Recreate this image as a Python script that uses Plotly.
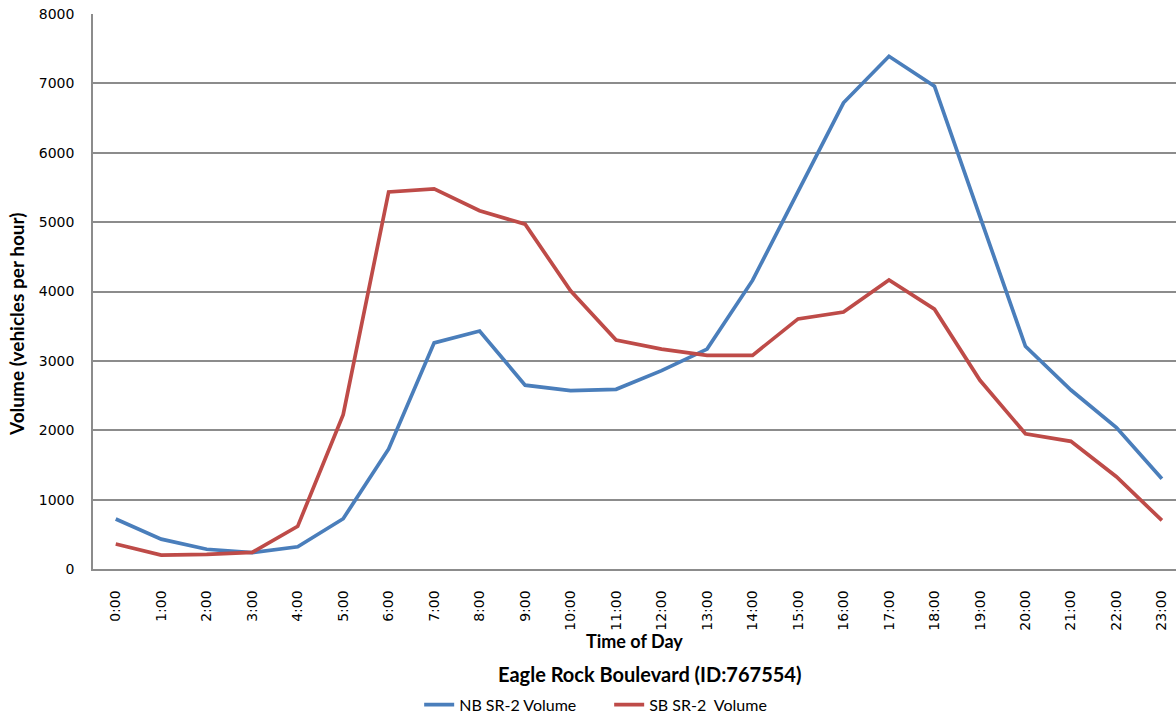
import plotly.graph_objects as go

hours = ["{}:00".format(h) for h in range(24)]

nb_volume = [720, 430, 285, 235, 320, 725, 1730, 3260, 3430, 2650,
             2570, 2590, 2860, 3170, 4160, 5450, 6720, 7390, 6960, 5080,
             3210, 2580, 2040, 1300]

sb_volume = [360, 200, 210, 240, 615, 2225, 5435, 5480, 5165, 4970,
             4010, 3300, 3170, 3080, 3080, 3605, 3705, 4165, 3745, 2720,
             1950, 1840, 1330, 700]

y_ticks = [0, 1000, 2000, 3000, 4000, 5000, 6000, 7000, 8000]

blue = "#4A7EBB"
red = "#BE4B48"
grid = "#8C8C8C"

fig = go.Figure()

fig.add_trace(go.Scatter(
    x=list(range(24)), y=nb_volume, mode="lines", name="NB SR-2 Volume",
    line=dict(color=blue, width=3.7),
))
fig.add_trace(go.Scatter(
    x=list(range(24)), y=sb_volume, mode="lines", name="SB SR-2  Volume",
    line=dict(color=red, width=3.7),
))

fig.update_layout(
    width=1176,
    height=717,
    margin=dict(l=93, r=0, t=14, b=148, autoexpand=False),
    plot_bgcolor="white",
    paper_bgcolor="white",
    font=dict(family="DejaVu Sans", size=14, color="#000000"),
    xaxis=dict(
        range=[-0.5, 23.31],
        tickmode="array",
        tickvals=list(range(24)),
        ticktext=hours,
        tickangle=-90,
        showgrid=False,
        zeroline=False,
        showline=True,
        linecolor=grid,
        linewidth=1.5,
        ticks="",
        ticklabelstandoff=14,
        tickfont=dict(family="DejaVu Sans", size=14),
    ),
    yaxis=dict(
        range=[0, 8000],
        tickvals=y_ticks,
        showgrid=True,
        gridcolor=grid,
        gridwidth=1.5,
        zeroline=False,
        showline=True,
        linecolor=grid,
        linewidth=1.5,
        ticks="",
        ticklabelstandoff=14,
        tickfont=dict(family="DejaVu Sans", size=14),
    ),
    showlegend=True,
    legend=dict(
        orientation="h",
        xref="container",
        yref="container",
        x=0.518,
        xanchor="center",
        y=0.017,
        yanchor="middle",
        font=dict(family="Lato", size=16),
        entrywidth=145,
        entrywidthmode="pixels",
        traceorder="normal",
    ),
    annotations=[
        dict(
            x=0.5, y=-0.13, xref="paper", yref="paper",
            text="<b>Time of Day</b>", showarrow=False,
            font=dict(family="Lato", size=18),
            xanchor="center", yanchor="middle",
        ),
        dict(
            x=0.514, y=-0.189, xref="paper", yref="paper",
            text="<b>Eagle Rock Boulevard (ID:767554)</b>", showarrow=False,
            font=dict(family="Lato", size=20),
            xanchor="center", yanchor="middle",
        ),
        dict(
            x=-0.070, y=0.44, xref="paper", yref="paper",
            text="<b>Volume (vehicles per hour)</b>", showarrow=False,
            textangle=-90,
            font=dict(family="Lato", size=19),
            xanchor="center", yanchor="middle",
        ),
    ],
)

# the page body has a default 8px margin, drop it so the chart fills the window
fig.write_html(
    "out.html",
    config={"displayModeBar": False},
    post_script="document.body.style.margin='0';",
)
